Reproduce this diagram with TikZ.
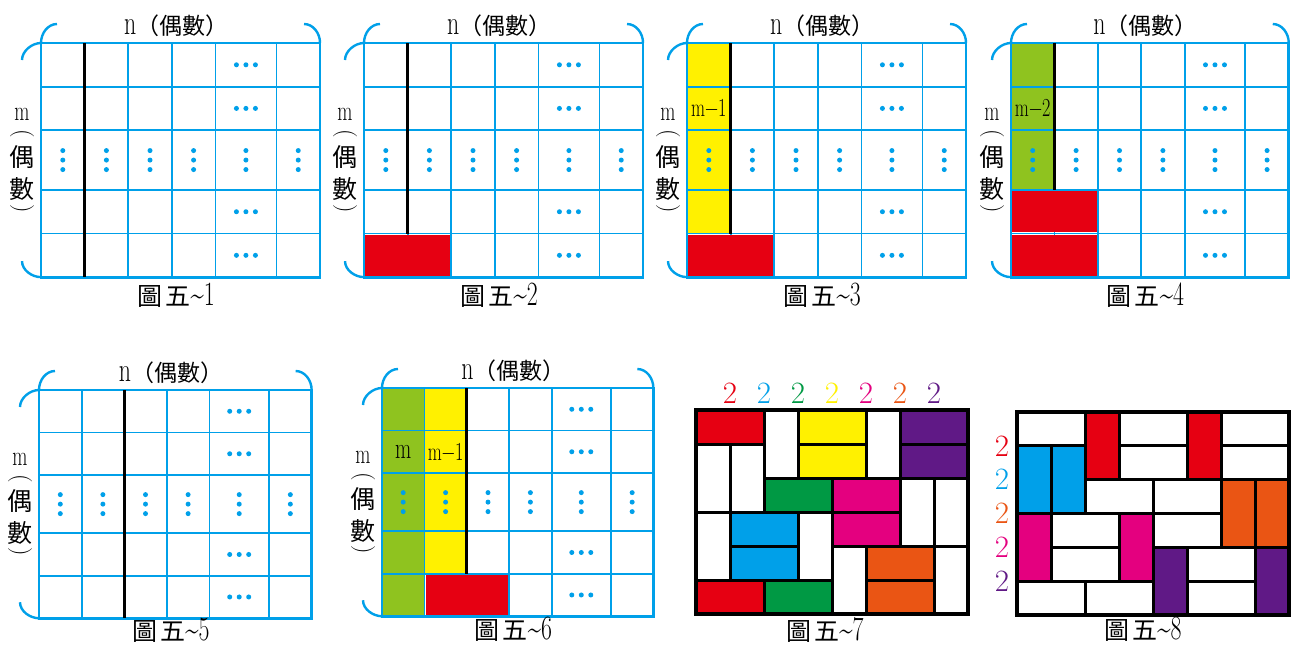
\documentclass[tikz,border=0pt]{standalone}
\usepackage{fontspec}
\usepackage{graphicx}
\newfontfamily\cjk{Noto Sans CJK TC}
\definecolor{gblue}{HTML}{00A0E9}
\definecolor{tred}{HTML}{E60012}
\definecolor{tyellow}{HTML}{FFF100}
\definecolor{tlime}{HTML}{8FC31F}
\definecolor{tblue}{HTML}{00A0E9}
\definecolor{tgreen}{HTML}{009944}
\definecolor{tmag}{HTML}{E4007F}
\definecolor{torange}{HTML}{EA5514}
\definecolor{tpurple}{HTML}{601986}
\newcommand\lat[2]{{\fontsize{#1}{#1}\selectfont\scalebox{0.7}[1]{#2}}}
\newcommand\cj[2]{{\cjk\fontsize{#1}{#1}\selectfont #2}}
\newcommand\basegrid{%
  \foreach \xx in {1,2,3,4,5.4}{\draw[gl] (\xx,0) -- (\xx,5.37);}
  \foreach \yy in {1,2,3.37,4.37}{\draw[gl] (0,\yy) -- (6.4,\yy);}
  \draw[gb] (0,0) rectangle (6.4,5.37);
}
\newcommand\griddots{%
  \foreach \yy in {0.5,1.5,3.87,4.87}{\foreach \dd in {-9.5,0,9.5}{\fill[dotc] ([xshift=\dd pt]4.7,\yy) circle[radius=2.5pt];}}
  \foreach \xx in {0.5,1.5,2.5,3.5,4.7,5.9}{\foreach \dd in {-9.5,0,9.5}{\fill[dotc] ([yshift=\dd pt]\xx,2.685) circle[radius=2.5pt];}}
}
\newcommand\redcell[3]{% x0, x1, row top
  \fill[tred] ([xshift=1.2pt,yshift=-1.2pt]#1,#3) rectangle ([xshift=-1.2pt,yshift=1.2pt]#2,#3+1);}
\newcommand\gridlabels[3]{%
  \node[lbl] (#1n) at ([yshift=17pt]3.1,0) {\lat{34}{n}\cj{23}{（偶數）}};
  \node[lbl] (#1m) at ([xshift=-19pt]0,1.63) {\lat{28}{m}};
  \node[lbl, rotate=-90] (#1pa) at ([xshift=-19pt]0,2.08) {\fontsize{24}{24}\selectfont (};
  \node[lbl] (#1ou) at ([xshift=-19pt]0,2.62) {\cj{25}{偶}};
  \node[lbl] (#1shu) at ([xshift=-19pt]0,3.36) {\cj{25}{數}};
  \node[lbl, rotate=-90] (#1pb) at ([xshift=-19pt]0,3.8) {\fontsize{24}{24}\selectfont )};
  \node[lbl] (#1cap) at ([yshift=-#3pt]3.1,5.37) {\cj{25}{圖\hspace{3pt}五}\lat{34}{\textasciitilde #2}};
  \draw[brk] (0,0) .. controls ([yshift=10pt]0,0) and ([xshift=7pt,yshift=19pt]0,0) .. ([xshift=16pt,yshift=19pt]0,0);
  \draw[brk] ([xshift=-16pt,yshift=19pt]6.4,0) .. controls ([xshift=-7pt,yshift=19pt]6.4,0) and ([yshift=10pt]6.4,0) .. (6.4,0);
  \draw[brk] ([xshift=-19pt,yshift=-17pt]0,0) .. controls ([xshift=-19pt,yshift=-8pt]0,0) and ([xshift=-9pt]0,0) .. (0,0);
  \draw[brk] ([xshift=-19pt,yshift=16pt]0,5.37) .. controls ([xshift=-19pt,yshift=7pt]0,5.37) and ([xshift=-9pt]0,5.37) .. (0,5.37);
}
\newcommand\tile[5]{\filldraw[tile, fill=#1] (#2,#3) rectangle ++(#4,#5);}
\tikzset{
  gl/.style={draw=gblue, line width=1.8pt},
  gb/.style={draw=gblue, line width=2.8pt},
  brk/.style={draw=gblue, line width=2.4pt},
  blk/.style={draw=black, line width=3pt},
  dotc/.style={fill=gblue},
  lbl/.style={inner sep=0pt, outer sep=0pt, anchor=center},
  tile/.style={draw=black, line width=3pt},
}
\begin{document}
\begin{tikzpicture}[x=1pt, y=-1pt]
\useasboundingbox (0,0) rectangle (1301,646);
\fill[white] (0,0) rectangle (1301,646);
% ---------- Fig 1
\begin{scope}[shift={(41,43)}, x={(43.6pt,0pt)}, y={(0pt,-43.6pt)}]
  \basegrid \griddots
  \draw[blk] (1,0) -- (1,5.37);
  \gridlabels{fa}{1}{18}
\end{scope}
% ---------- Fig 2
\begin{scope}[shift={(364,43)}, x={(43.6pt,0pt)}, y={(0pt,-43.6pt)}]
  \basegrid \griddots
  \redcell{0}{2}{4.37}
  \draw[blk] (1,0) -- (1,4.37);
  \gridlabels{fb}{2}{18}
\end{scope}
% ---------- Fig 3
\begin{scope}[shift={(687,43)}, x={(43.6pt,0pt)}, y={(0pt,-43.6pt)}]
  \fill[tyellow] (0,0) rectangle (1,4.37);
  \basegrid \griddots
  \redcell{0}{2}{4.37}
  \draw[blk] (1,0) -- (1,4.37);
  \node[lbl] (fcm) at (0.5,1.5) {\lat{26}{m−1}};
  \gridlabels{fc}{3}{18}
\end{scope}
% ---------- Fig 4
\begin{scope}[shift={(1011,43)}, x={(43.4pt,0pt)}, y={(0pt,-43.6pt)}]
  \fill[tlime] (0,0) rectangle (1,3.37);
  \basegrid \griddots
  \redcell{0}{2}{3.37}
  \redcell{0}{2}{4.37}
  \draw[blk] (1,0) -- (1,3.37);
  \node[lbl] (fdm) at (0.5,1.5) {\lat{26}{m−2}};
  \gridlabels{fd}{4}{18}
\end{scope}
% ---------- Fig 5
\begin{scope}[shift={(39,390)}, x={(42.6pt,0pt)}, y={(0pt,-42.5pt)}]
  \basegrid \griddots
  \draw[blk] (2,0) -- (2,5.37);
  \gridlabels{fe}{5}{12}
\end{scope}
% ---------- Fig 6
\begin{scope}[shift={(382,388)}, x={(42.4pt,0pt)}, y={(0pt,-42.5pt)}]
  \fill[tlime] (0,0) rectangle (1,5.37);
  \fill[tyellow] (1,0) rectangle (2,4.37);
  \basegrid \griddots
  \redcell{1}{3}{4.37}
  \draw[blk] (2,0) -- (2,4.37);
  \node[lbl] (ffm) at (0.5,1.5) {\lat{30}{m}};
  \node[lbl] (ffm1) at (1.5,1.5) {\lat{26}{m−1}};
  \gridlabels{ff}{6}{13}
\end{scope}
% ---------- Fig 7
\begin{scope}[shift={(696,410)}, x={(34pt,0pt)}, y={(0pt,-34pt)}]
  \tile{tred}{0}{0}{2}{1}
  \tile{white}{2}{0}{1}{2}
  \tile{tyellow}{3}{0}{2}{1}
  \tile{white}{5}{0}{1}{2}
  \tile{tpurple}{6}{0}{2}{1}
  \tile{white}{0}{1}{1}{2}
  \tile{white}{1}{1}{1}{2}
  \tile{tyellow}{3}{1}{2}{1}
  \tile{tpurple}{6}{1}{2}{1}
  \tile{tgreen}{2}{2}{2}{1}
  \tile{tmag}{4}{2}{2}{1}
  \tile{white}{6}{2}{1}{2}
  \tile{white}{7}{2}{1}{2}
  \tile{white}{0}{3}{1}{2}
  \tile{tblue}{1}{3}{2}{1}
  \tile{white}{3}{3}{1}{2}
  \tile{tmag}{4}{3}{2}{1}
  \tile{tblue}{1}{4}{2}{1}
  \tile{white}{4}{4}{1}{2}
  \tile{torange}{5}{4}{2}{1}
  \tile{white}{7}{4}{1}{2}
  \tile{tred}{0}{5}{2}{1}
  \tile{tgreen}{2}{5}{2}{1}
  \tile{torange}{5}{5}{2}{1}
  \draw[line width=3.5pt] (0,0) rectangle (8,6);
  \foreach \k/\c in {1/tred,2/tblue,3/tgreen,4/tyellow,5/tmag,6/torange,7/tpurple}{
    \node[lbl, text=\c] (fg\k) at ([yshift=17pt]\k,0) {\fontsize{31}{31}\selectfont 2};}
  \node[lbl] (fgcap) at ([xshift=-7pt,yshift=-16pt]4,6) {\cj{25}{圖\hspace{3pt}五}\lat{34}{\textasciitilde 7}};
\end{scope}
% ---------- Fig 8
\begin{scope}[shift={(1017,412)}, x={(34pt,0pt)}, y={(0pt,-33.8pt)}]
  \tile{white}{0}{0}{2}{1}
  \tile{tred}{2}{0}{1}{2}
  \tile{white}{3}{0}{2}{1}
  \tile{tred}{5}{0}{1}{2}
  \tile{white}{6}{0}{2}{1}
  \tile{tblue}{0}{1}{1}{2}
  \tile{tblue}{1}{1}{1}{2}
  \tile{white}{3}{1}{2}{1}
  \tile{white}{6}{1}{2}{1}
  \tile{white}{2}{2}{2}{1}
  \tile{white}{4}{2}{2}{1}
  \tile{torange}{6}{2}{1}{2}
  \tile{torange}{7}{2}{1}{2}
  \tile{tmag}{0}{3}{1}{2}
  \tile{white}{1}{3}{2}{1}
  \tile{tmag}{3}{3}{1}{2}
  \tile{white}{4}{3}{2}{1}
  \tile{white}{1}{4}{2}{1}
  \tile{tpurple}{4}{4}{1}{2}
  \tile{white}{5}{4}{2}{1}
  \tile{tpurple}{7}{4}{1}{2}
  \tile{white}{0}{5}{2}{1}
  \tile{white}{2}{5}{2}{1}
  \tile{white}{5}{5}{2}{1}
  \draw[line width=3.5pt] (0,0) rectangle (8,6);
  \foreach \k/\c in {1/tred,2/tblue,3/torange,4/tmag,5/tpurple}{
    \node[lbl, text=\c] (fh\k) at ([xshift=-15pt]0,\k) {\fontsize{31}{31}\selectfont 2};}
  \node[lbl] (fhcap) at ([xshift=-10pt,yshift=-14pt]4,6) {\cj{25}{圖\hspace{3pt}五}\lat{34}{\textasciitilde 8}};
\end{scope}
\end{tikzpicture}
\end{document}
